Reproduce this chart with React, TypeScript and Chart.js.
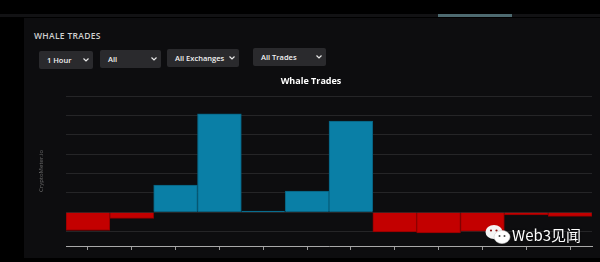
import React, { useEffect, useRef } from "react";
import { Chart, registerables } from "chart.js";

Chart.register(...registerables);

const categories = ["12:00", "12:05", "12:10", "12:15", "12:20", "12:25", "12:30", "12:35", "12:40", "12:45", "12:50", "12:55"];
const netWhaleVolume = [-0.95, -0.32, 1.4, 5.08, 0.06, 1.09, 4.7, -1.02, -1.08, -0.98, -0.15, -0.22];
const yMin = -1.75;
const yMax = 6;
const filterLabels = ["1 Hour", "All", "All Exchanges", "All Trades"];

const BLUE = "#0a7fa6";
const BLUE_BORDER = "#07607e";
const RED = "#c30000";
const RED_BORDER = "#8e0000";

function Dropdown({ label, left, top, width }: { label: string; left: number; top: number; width: number }) {
  return (
    <div
      style={{
        position: "absolute",
        left,
        top,
        width,
        height: 18,
        background: "#2a2a2d",
        borderRadius: 2,
        color: "#f2f2f2",
        fontFamily: "'Open Sans', sans-serif",
        fontSize: 7.5,
        fontWeight: 600,
        lineHeight: "18px",
        boxSizing: "border-box",
        paddingLeft: 8,
      }}
    >
      {label}
      <svg width="6" height="4" viewBox="0 0 6 4" style={{ position: "absolute", right: 4, top: 7 }}>
        <path d="M0.5 0.5 L3 3 L5.5 0.5" stroke="#e8e8e8" strokeWidth="1.2" fill="none" />
      </svg>
    </div>
  );
}

export default function App() {
  const canvasRef = useRef<HTMLCanvasElement | null>(null);

  useEffect(() => {
    if (!canvasRef.current) return;
    const chart = new Chart(canvasRef.current, {
      type: "bar",
      data: {
        labels: categories,
        datasets: [
          {
            label: "Whale Trades",
            data: netWhaleVolume,
            backgroundColor: (ctx: any) => ((ctx.raw as number) >= 0 ? BLUE : RED),
            borderColor: (ctx: any) => ((ctx.raw as number) >= 0 ? BLUE_BORDER : RED_BORDER),
            borderWidth: 1,
            barPercentage: 1,
            categoryPercentage: 1,
          },
        ],
      },
      options: {
        animation: false,
        responsive: false,
        maintainAspectRatio: false,
        layout: { padding: { left: 0, right: 6, top: 0, bottom: 0 } },
        plugins: {
          legend: { display: false },
          tooltip: { enabled: false },
          title: {
            display: true,
            text: "Whale Trades",
            color: "#ffffff",
            font: { family: "'Open Sans', sans-serif", size: 9, weight: "bold" },
            padding: { top: 5.6, bottom: 9.6 },
          },
        },
        scales: {
          x: {
            type: "category",
            offset: true,
            grid: {
              display: true,
              offset: false,
              drawOnChartArea: false,
              drawTicks: true,
              tickLength: 4,
              tickColor: "#9a9a9a",
            },
            border: { display: true, color: "#a8a8a8", width: 1 },
            ticks: { display: false },
            afterFit: (scale: any) => {
              scale.height = 6;
            },
          },
          y: {
            min: yMin,
            max: yMax,
            ticks: { display: false, stepSize: 1 },
            grid: { color: "rgba(255,255,255,0.10)", drawTicks: false, lineWidth: 1 },
            border: { display: false },
            title: {
              display: true,
              text: "CryptoMeter.io",
              color: "#6a6a6a",
              font: { family: "'Open Sans', sans-serif", size: 6 },
              padding: { top: 7.4, bottom: 0 },
            },
            afterFit: (scale: any) => {
              scale.width = 36;
            },
          },
        },
      },
    } as any);
    return () => chart.destroy();
  }, []);

  return (
    <div
      style={{
        position: "fixed",
        left: 0,
        top: 0,
        width: 600,
        height: 262,
        background: "#000",
        overflow: "hidden",
      }}
    >
      <div style={{ position: "absolute", left: 0, top: 14, width: 600, height: 3, background: "#121214" }} />
      <div style={{ position: "absolute", left: 438, top: 14, width: 74, height: 3, background: "#4d6a70" }} />
      <div style={{ position: "absolute", left: 24, top: 18, width: 576, height: 240, background: "#0d0d0f" }} />
      <div
        style={{
          position: "absolute",
          left: 34,
          top: 31,
          color: "#d0d0d0",
          fontFamily: "'Open Sans', sans-serif",
          fontSize: 8.5,
          fontWeight: 600,
          letterSpacing: 0.3,
          lineHeight: "10px",
        }}
      >
        WHALE TRADES
      </div>
      <Dropdown label={filterLabels[0]} left={39} top={51} width={54} />
      <Dropdown label={filterLabels[1]} left={100} top={50} width={61} />
      <Dropdown label={filterLabels[2]} left={167} top={49} width={72} />
      <Dropdown label={filterLabels[3]} left={253} top={48} width={73} />
      <canvas
        ref={canvasRef}
        width={568}
        height={182}
        style={{ position: "absolute", left: 30, top: 70, width: 568, height: 182 }}
      />
      <svg width="26" height="20" viewBox="0 0 26 20" style={{ position: "absolute", left: 485, top: 224 }}>
        <ellipse cx="9" cy="8" rx="8.5" ry="7" fill="#f4f4f4" />
        <circle cx="6" cy="6.5" r="1.1" fill="#8a1010" />
        <circle cx="11.5" cy="6.5" r="1.1" fill="#8a1010" />
        <ellipse cx="17" cy="13" rx="8" ry="6.5" fill="#ffffff" stroke="#cfcfcf" strokeWidth="0.6" />
        <circle cx="14.5" cy="12" r="1" fill="#444" />
        <circle cx="19.5" cy="12" r="1" fill="#444" />
      </svg>
      <div
        style={{
          position: "absolute",
          left: 512,
          top: 226,
          color: "#ffffff",
          fontFamily: "'Noto Sans CJK SC', 'Noto Sans', sans-serif",
          fontSize: 15,
          lineHeight: "18px",
          textShadow: "0 0 2px rgba(0,0,0,0.6)",
        }}
      >
        Web3见闻
      </div>
    </div>
  );
}
